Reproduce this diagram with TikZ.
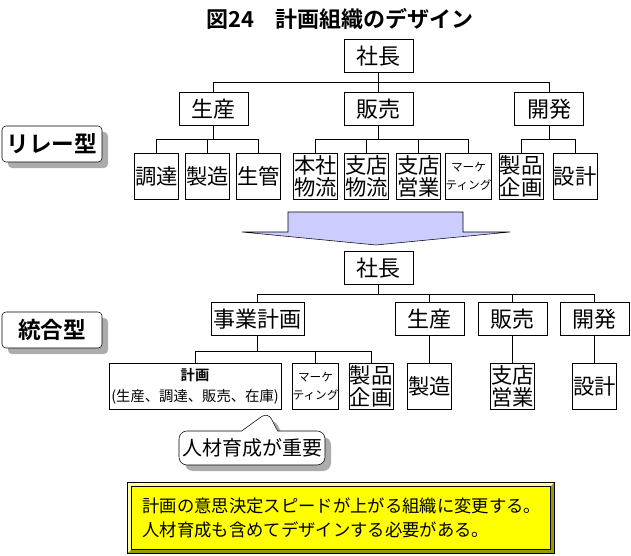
\documentclass[tikz,border=0pt]{standalone}
\usepackage{fontspec}
\setmainfont{Noto Sans CJK JP}[BoldFont={Noto Sans CJK JP Bold}]
\usetikzlibrary{shapes.callouts,shadows}
\definecolor{arrowBlue}{RGB}{204,204,255}
\definecolor{noteYellow}{RGB}{255,255,0}
\definecolor{bevelDark}{RGB}{153,153,0}
\definecolor{bevelLight}{RGB}{255,255,160}
\colorlet{shadowGray}{gray!65}

\begin{document}
\begin{tikzpicture}[x=0.75pt, y=-0.75pt,
    every node/.style={inner sep=0pt, font=\fontsize{16.5}{17}\selectfont},
    box/.style={draw, fill=white, minimum width=51.75pt, minimum height=24.75pt},
    leaf/.style={draw, fill=white, minimum width=33pt, minimum height=34.5pt, align=center,
        font=\fontsize{16}{16.5}\selectfont},
    small/.style={font=\fontsize{8.75}{13.5}\selectfont},
    tag/.style={draw, fill=white, rounded corners=3pt, minimum width=75pt, minimum height=27pt,
        font=\fontsize{17}{18}\bfseries,
        drop shadow={shadow xshift=4.5pt, shadow yshift=-4.5pt, fill=shadowGray, opacity=1}}]
    \useasboundingbox (0,0) rectangle (631,556);
    \node[font=\fontsize{16.5}{18}\bfseries] (title) at (340,19) {図24　計画組織のデザイン};

    % relay type
    \node[tag] (relay) at (52,144) {リレー型};
    \node[box] (ceoA) at (378.5,56) {社長};
    \node[box] (prodA) at (213.5,109) {生産};
    \node[box] (salesA) at (378.5,109) {販売};
    \node[box] (devA) at (549,109) {開発};
    \node[leaf] (procA) at (156.5,176) {調達};
    \node[leaf] (mfgA) at (207.5,176) {製造};
    \node[leaf] (ctrlA) at (258.5,176) {生管};
    \node[leaf] (hqlogA) at (315.5,176) {本社\\物流};
    \node[leaf] (brlogA) at (366.5,176) {支店\\物流};
    \node[leaf] (brsalesA) at (418.5,176) {支店\\営業};
    \node[leaf, small] (mktA) at (468.5,176) {マーケ\\ティング};
    \node[leaf] (planA) at (521,176) {製品\\企画};
    \node[leaf] (designA) at (575,176) {設計};
    \foreach \c in {prodA,salesA,devA}
        \draw (ceoA.south) -- ++(0,10) -| (\c.north);
    \foreach \c in {procA,mfgA,ctrlA}
        \draw (prodA.south) -- ++(0,14) -| (\c.north);
    \foreach \c in {hqlogA,brlogA,brsalesA,mktA}
        \draw (salesA.south) -- ++(0,14) -| (\c.north);
    \foreach \c in {planA,designA}
        \draw (devA.south) -- ++(0,14) -| (\c.north);

    % change arrow
    \draw[fill=arrowBlue] (288,212) -- (463,212) -- (463,232) -- (510,232) -- (376,245)
        -- (242,232) -- (288,232) -- cycle;

    % integrated type
    \node[tag] (integ) at (52,330) {統合型};
    \node[box] (ceoB) at (378.5,268) {社長};
    \node[box, minimum width=69.75pt] (bizB) at (257.5,319) {事業計画};
    \node[box] (prodB) at (429.5,319) {生産};
    \node[box] (salesB) at (512.5,319) {販売};
    \node[box] (devB) at (594.5,319) {開発};
    \node[leaf, minimum width=129pt, font=\fontsize{10.75}{15.5}\selectfont] (plan) at (195,386.5)
        {\textbf{計画}\\(生産、調達、販売、在庫)};
    \node[leaf, small] (mktB) at (315.5,386.5) {マーケ\\ティング};
    \node[leaf] (planB) at (371,386.5) {製品\\企画};
    \node[leaf] (mfgB) at (429.5,386.5) {製造};
    \node[leaf] (brsalesB) at (512.5,386.5) {支店\\営業};
    \node[leaf] (designB) at (594.5,386.5) {設計};
    \foreach \c in {bizB,prodB,salesB,devB}
        \draw (ceoB.south) -- ++(0,9) -| (\c.north);
    \foreach \c in {plan,mktB,planB}
        \draw (bizB.south) -- ++(0,15) -| (\c.north);
    \draw (prodB) -- (mfgB);
    \draw (salesB) -- (brsalesB);
    \draw (devB) -- (designB);

    % callout
    \coordinate (tip) at (268,412);
    \node[rectangle callout, draw, fill=white, rounded corners=6pt, minimum width=109.5pt,
        minimum height=25.5pt, callout absolute pointer={(tip)}, callout pointer width=27pt,
        font=\fontsize{15}{16}\selectfont,
        drop shadow={shadow xshift=4.5pt, shadow yshift=-4.5pt, fill=shadowGray, opacity=1}]
        (talent) at (252,448) {人材育成が重要};

    % summary
    \node[draw, fill=noteYellow, minimum width=319.5pt, minimum height=52.5pt, text width=298pt,
        inner xsep=10.5pt, align=left, font=\fontsize{13}{18.5}\selectfont]
        (summary) at (341,518) {計画の意思決定スピードが上がる組織に変更する。\\人材育成も含めてデザインする必要がある。};
    \fill[bevelLight] (summary.north east) -- (summary.north west) -- (summary.south west)
        -- ([shift={(3pt,3pt)}]summary.south west) -- ([shift={(3pt,-3pt)}]summary.north west)
        -- ([shift={(-3pt,-3pt)}]summary.north east) -- cycle;
    \fill[bevelDark] (summary.north east) -- (summary.south east) -- (summary.south west)
        -- ([shift={(3pt,3pt)}]summary.south west) -- ([shift={(-3pt,3pt)}]summary.south east)
        -- ([shift={(-3pt,-3pt)}]summary.north east) -- cycle;
    \draw ([shift={(3pt,-3pt)}]summary.north west) rectangle ([shift={(-3pt,3pt)}]summary.south east);
    \draw (summary.north west) rectangle (summary.south east);
\end{tikzpicture}
\end{document}
